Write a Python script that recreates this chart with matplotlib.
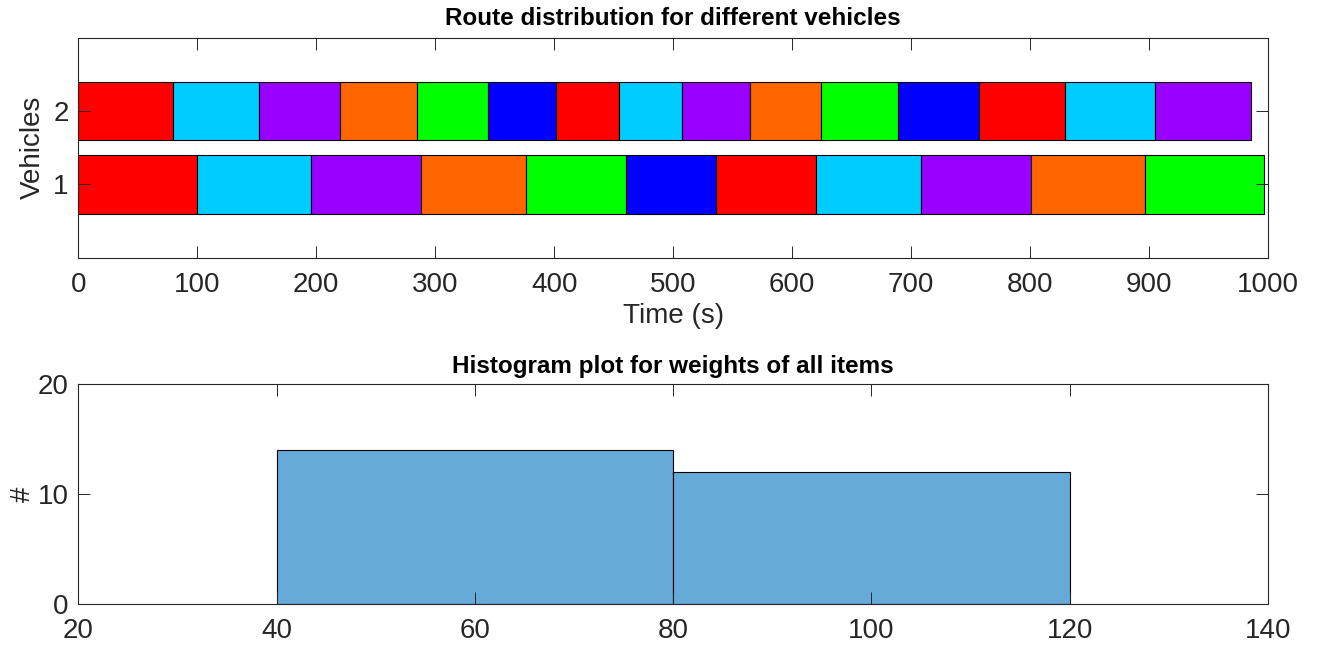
import matplotlib
matplotlib.use("Agg")
import matplotlib.pyplot as plt

plt.rcParams['font.family'] = ['Liberation Sans', 'DejaVu Sans']

# route segments per vehicle: start/end times in seconds
veh1_start = [0, 99.5, 195.7, 288.2, 376.2, 460.1, 536.3, 620.4, 708.4, 800.7, 896.8]
veh1_end = [99.5, 195.7, 288.2, 376.2, 460.1, 536.3, 620.4, 708.4, 800.7, 896.8, 996.9]
veh2_start = [0, 80.0, 151.6, 220.1, 284.5, 344.6, 401.4, 454.7, 507.7, 564.3,
              624.6, 688.6, 756.9, 829.0, 905.2]
veh2_end = [80.0, 151.6, 220.1, 284.5, 344.6, 401.4, 454.7, 507.7, 564.3, 624.6,
            688.6, 756.9, 829.0, 905.2, 985.4]
route_colors = ['#FF0000', '#00CCFF', '#9900FF', '#FF6600', '#00FF00', '#0000FF']

# histogram of item weights
bin_edges = [40, 80, 120]
bin_counts = [14, 12]

txt = '#262626'
edge = '#262626'
fs = 20

fig = plt.figure(figsize=(13.2, 6.5), dpi=100)
ax1 = fig.add_axes([0.0593, 0.6035, 0.9013, 0.3385])
ax2 = fig.add_axes([0.0593, 0.0708, 0.9013, 0.3385])


def style_axes(ax):
    for s in ax.spines.values():
        s.set_color(edge)
        s.set_linewidth(0.8)
    ax.tick_params(direction='in', length=8.5, width=0.7, color=edge, labelcolor=txt,
                   labelsize=fs, top=True, right=True)
    ax.tick_params(axis='x', pad=10)
    ax.tick_params(axis='y', pad=7)


# Gantt-style route bars
for row, (starts, ends) in enumerate([(veh1_start, veh1_end), (veh2_start, veh2_end)], start=1):
    widths = [e - s for s, e in zip(starts, ends)]
    cols = [route_colors[i % len(route_colors)] for i in range(len(starts))]
    ax1.barh([row] * len(starts), widths, left=starts, height=0.8, color=cols,
             edgecolor='black', linewidth=0.8)

ax1.set_xlim(0, 1000)
ax1.set_ylim(0, 3)
ax1.set_xticks(range(0, 1001, 100))
ax1.set_yticks([1, 2])
style_axes(ax1)
ax1.set_xlabel('Time (s)', fontsize=fs, color=txt, labelpad=4)
ax1.set_ylabel('Vehicles', fontsize=fs, color=txt)
ax1.yaxis.set_label_coords(-0.0272, 0.5)
ax1.set_title('Route distribution for different vehicles', fontsize=17.5,
              fontweight='bold', color='black', pad=9)

# histogram
widths = [bin_edges[i + 1] - bin_edges[i] for i in range(len(bin_counts))]
ax2.bar(bin_edges[:-1], bin_counts, width=widths, align='edge', color='#66AAD7',
        edgecolor='black', linewidth=0.8)
ax2.set_xlim(20, 140)
ax2.set_ylim(0, 20)
ax2.set_xticks(range(20, 141, 20))
ax2.set_yticks([0, 10, 20])
style_axes(ax2)
ax2.set_ylabel('#', fontsize=fs, color=txt)
ax2.yaxis.set_label_coords(-0.0356, 0.5)
ax2.set_title('Histogram plot for weights of all items', fontsize=17.5,
              fontweight='bold', color='black', pad=8)

fig.savefig('out.png', dpi=100)
